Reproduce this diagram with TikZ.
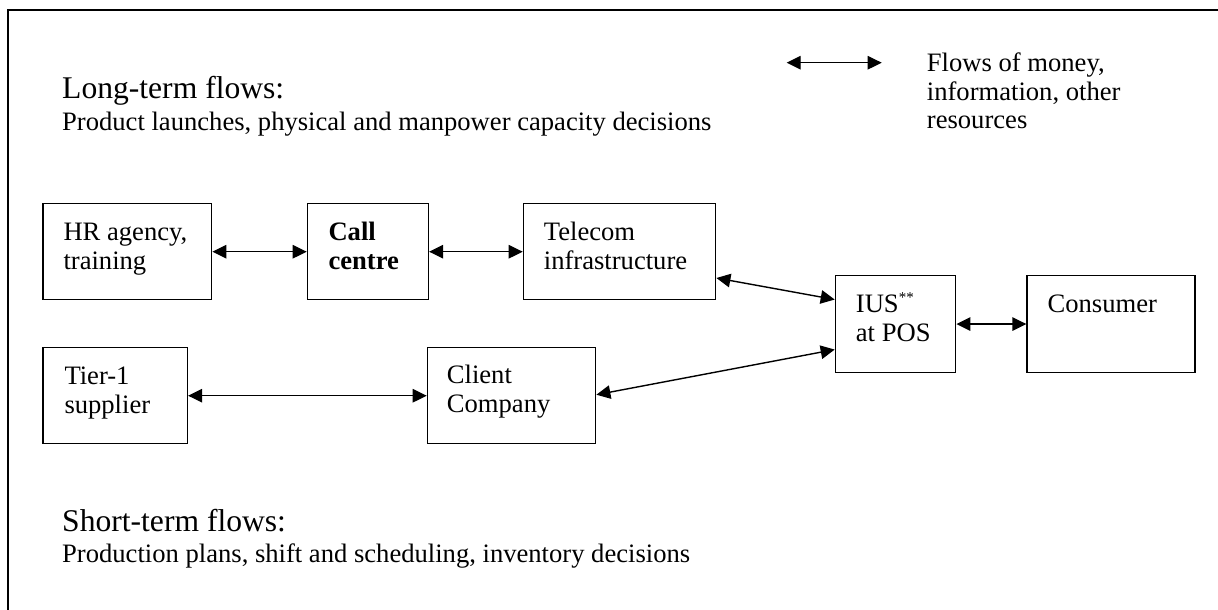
\documentclass[tikz,border=0pt]{standalone}
\usepackage{fontspec}
\setmainfont{Liberation Serif}
\usetikzlibrary{arrows.meta,calc}
\tikzset{
  box/.style={draw, line width=1.4pt, anchor=north west, inner sep=0pt, minimum height=96pt},
  txt/.style={anchor=base west, inner sep=0pt, font=\fontsize{26.6}{29}\selectfont},
  head/.style={anchor=base west, inner sep=0pt, font=\fontsize{31.6}{34}\selectfont},
  flow/.style={line width=1.4pt, {Triangle[length=14pt,width=13.5pt]}-{Triangle[length=14pt,width=13.5pt]}},
  frame/.style={line width=1.6pt}
}
\newcommand\twoln[2]{\vtop{\baselineskip=29pt\hbox{#1}\hbox{#2}}}
\begin{document}
\begin{tikzpicture}[x=1pt,y=-1pt]
\useasboundingbox (0,0) rectangle (1218,610);
\clip (0,0) rectangle (1218,610);
\fill[white] (0,0) rectangle (1218,610);
\draw[frame] (1230,10) -- (8,10) -- (8,625);

% headings
\node[head] (lt) at (62,99) {Long-term flows:};
\node[txt] (ltd) at (62,130) {Product launches, physical and manpower capacity decisions};
\node[head] (st) at (62,531) {Short-term flows:};
\node[txt] (std) at (62,562) {Production plans, shift and scheduling, inventory decisions};

% legend
\coordinate (la) at (786.7,62.7);
\coordinate (lb) at (881.7,62.7);
\draw[flow] (la) -- (lb);
\node[txt] (leg) at (926.7,71) {\vtop{\baselineskip=29pt\hbox{Flows of money,}\hbox{information, other}\hbox{resources}}};

% boxes
\node[box, minimum width=168.7pt] (hr) at (42.3,203) {};
\node[box, minimum width=121pt] (call) at (306.7,203) {};
\node[box, minimum width=192.3pt] (tel) at (522.7,203) {};
\node[box, minimum width=144.4pt] (tier) at (42.3,347) {};
\node[box, minimum width=168.3pt] (client) at (426.7,347) {};
\node[box, minimum width=120.3pt, minimum height=96.7pt] (ius) at (834.7,275) {};
\node[box, minimum width=168pt, minimum height=96.7pt] (cons) at (1026.4,275) {};

% box texts
\node[txt] (hrt) at ($(hr.north west)+(21,37)$) {\twoln{HR agency,}{training}};
\node[txt] (callt) at ($(call.north west)+(21.6,37)$) {\twoln{\bfseries Call}{\bfseries centre}};
\node[txt] (telt) at ($(tel.north west)+(21,37)$) {\twoln{Telecom}{infrastructure}};
\node[txt] (tiert) at ($(tier.north west)+(22,37)$) {\twoln{Tier-1}{supplier}};
\node[txt] (clientt) at ($(client.north west)+(20,36)$) {\twoln{Client}{Company}};
\node[txt] (iust) at ($(ius.north west)+(21,37)$) {\twoln{IUS\raisebox{10pt}{\fontsize{15}{15}\selectfont **}}{at POS}};
\node[txt] (const) at ($(cons.north west)+(21,37)$) {Consumer};

% connectors
\draw[flow] (hr.east) -- (call.west);
\draw[flow] (call.east) -- (tel.west);
\draw[flow] ($(tel.north east)!0.77!(tel.south east)$) -- ($(ius.north west)!0.25!(ius.south west)$);
\draw[flow] ($(client.north east)!0.49!(client.south east)$) -- ($(ius.north west)!0.76!(ius.south west)$);
\draw[flow] (tier.east) -- (client.west);
\draw[flow] (ius.east) -- (cons.west);
\end{tikzpicture}
\end{document}
